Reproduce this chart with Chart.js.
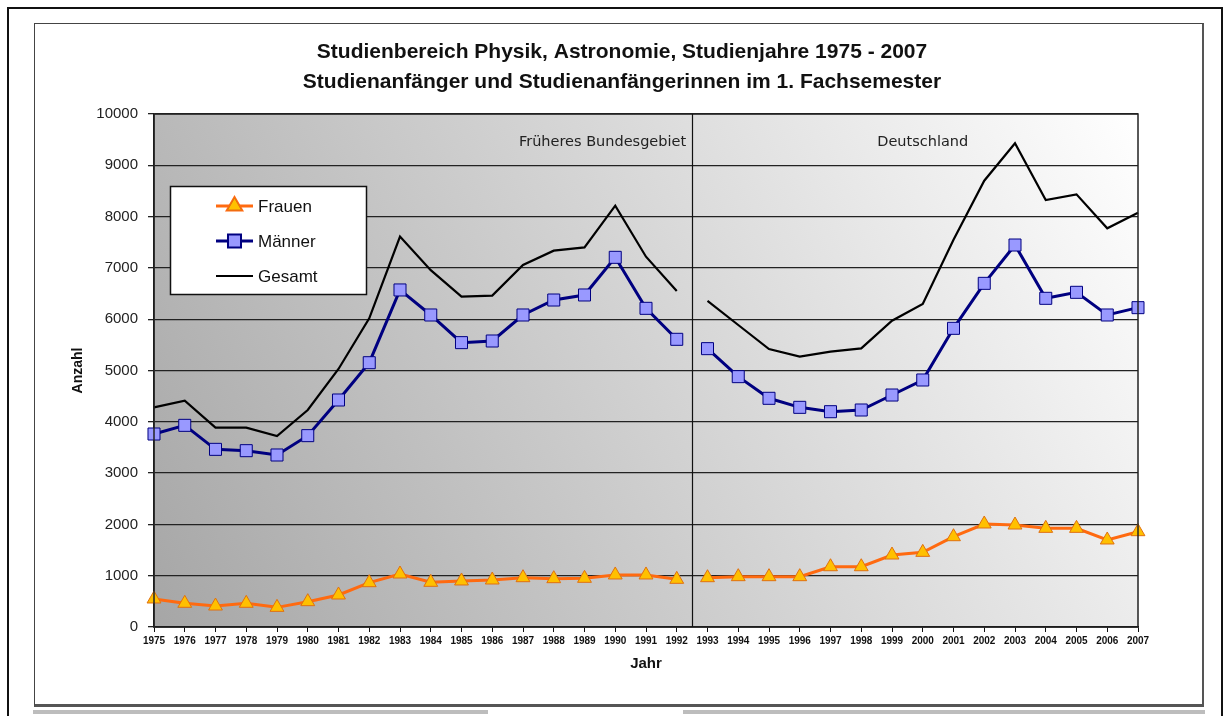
<!DOCTYPE html>
<html>
<head>
<meta charset="utf-8">
<script src="https://cdn.jsdelivr.net/npm/chart.js@4.4.1/dist/chart.umd.min.js"></script>
<style>
  html, body { margin:0; padding:0; background:#fff; width:1230px; height:716px; overflow:hidden; }
  #outer { position:absolute; left:7px; top:7px; width:1216px; height:720px; border:2px solid #111; border-bottom:none; box-sizing:border-box; }
  #inner { position:absolute; left:34px; top:23px; width:1170px; height:684px; border:1px solid #444; border-right:2px solid #555; border-bottom:3px solid #555; box-sizing:border-box; background:#fff; }
  .bar { position:absolute; top:710px; height:4px; background:#bdbdbd; }
  #wrap { position:absolute; left:0; top:0; width:1230px; height:716px; }
</style>
</head>
<body>
<div id="outer"></div>
<div id="inner"></div>
<div class="bar" style="left:33px;width:455px;"></div>
<div class="bar" style="left:683px;width:522px;"></div>
<div id="wrap"><canvas id="c" width="1230" height="716"></canvas></div>
<script>
const years = ['1975','1976','1977','1978','1979','1980','1981','1982','1983','1984','1985','1986','1987','1988','1989','1990','1991','1992',
               '1993','1994','1995','1996','1997','1998','1999','2000','2001','2002','2003','2004','2005','2006','2007'];
const frauen = [546,462,409,462,383,494,624,864,1033,871,897,916,961,942,949,1014,1014,929,
                961,981,981,981,1175,1175,1403,1455,1760,2008,1988,1923,1923,1696,1858];
const maenner = [3762,3931,3463,3437,3353,3730,4425,5152,6570,6082,5543,5575,6082,6374,6472,7206,6212,5608,
                 5426,4880,4458,4282,4197,4230,4522,4815,5822,6699,7446,6407,6524,6082,6225];
const gesamt = [4282,4411,3885,3885,3723,4230,5030,6016,7610,6955,6440,6460,7057,7336,7400,8213,7218,6550,
                6355,5887,5419,5270,5367,5432,5971,6296,7550,8700,9429,8324,8434,7771,8077];
const seriesNames = ['Frauen','Männer','Gesamt'];
const yTicks = [0,1000,2000,3000,4000,5000,6000,7000,8000,9000,10000];
const regionLabels = ['Früheres Bundesgebiet','Deutschland'];
const splitAfter = '1992';
const titleLines = ['Studienbereich Physik, Astronomie, Studienjahre 1975 - 2007','Studienanfänger und Studienanfängerinnen im 1. Fachsemester'];

const FONT = "'Liberation Sans', Arial, sans-serif";
const FONT2 = "'DejaVu Sans', Verdana, sans-serif";
const splitIdx = years.indexOf(splitAfter);
const gapColor = (col) => (ctx) => ctx.p0DataIndex === splitIdx ? 'rgba(0,0,0,0)' : col;

const bgPlugin = {
  id:'bg',
  beforeDraw(chart){
    const {ctx, chartArea:a} = chart;
    const g = ctx.createLinearGradient(a.left, a.bottom, a.right, a.top);
    g.addColorStop(0, '#a6a6a6');
    g.addColorStop(0.5, '#d2d2d2');
    g.addColorStop(1, '#ffffff');
    ctx.save(); ctx.fillStyle = g; ctx.fillRect(a.left, a.top, a.right-a.left, a.bottom-a.top);
    ctx.fillStyle = '#111'; ctx.font = 'bold 21px ' + FONT; ctx.textAlign = 'center'; ctx.textBaseline = 'middle';
    titleLines.forEach((t, i) => ctx.fillText(t, 622, 52 + i*30));
    ctx.restore();
  },
  afterDatasetsDraw(chart){
    const {ctx, chartArea:a, scales:{x,y}} = chart;
    ctx.save();
    ctx.strokeStyle = '#222'; ctx.lineWidth = 1.5;
    ctx.strokeRect(a.left, a.top, a.right-a.left, a.bottom-a.top);
    const xd = (x.getPixelForValue(splitIdx) + x.getPixelForValue(splitIdx+1))/2;
    ctx.beginPath(); ctx.moveTo(Math.round(xd)+0.5, a.top); ctx.lineTo(Math.round(xd)+0.5, a.bottom); ctx.strokeStyle='#111'; ctx.lineWidth=1.2; ctx.stroke();
    ctx.fillStyle = '#222'; ctx.font = '14.5px ' + FONT2; ctx.textBaseline = 'middle';
    ctx.textAlign = 'right';
    ctx.fillText(regionLabels[0], xd - 6, a.top + 28);
    ctx.textAlign = 'center';
    ctx.fillText(regionLabels[1], x.getPixelForValue(years.indexOf('2000')), a.top + 28);
    ctx.restore();
  },
  afterDraw(chart){
    const {ctx} = chart;
    ctx.save();
    const bx = 170, by = 186, bw = 196, bh = 108;
    ctx.fillStyle = '#fff'; ctx.fillRect(bx, by, bw, bh);
    ctx.strokeStyle = '#111'; ctx.lineWidth = 1.5; ctx.strokeRect(bx+0.5, by+0.5, bw, bh);
    chart.data.datasets.forEach((ds, i) => {
      const yy = by + 20 + i*35;
      ctx.beginPath(); ctx.moveTo(216, yy); ctx.lineTo(253, yy);
      ctx.strokeStyle = ds.borderColor; ctx.lineWidth = ds.borderWidth; ctx.stroke();
      if (ds.pointStyle && ds.pointRadius > 0) {
        Chart.helpers.drawPoint(ctx, {pointStyle: ds.pointStyle, radius: ds.pointRadius, borderWidth: ds.pointBorderWidth, rotation:0}, 234.5, yy);
        ctx.fillStyle = ds.pointBackgroundColor; ctx.strokeStyle = ds.pointBorderColor; ctx.lineWidth = ds.pointBorderWidth;
        ctx.fill(); ctx.stroke();
      }
      ctx.fillStyle = '#111'; ctx.font = '17px ' + FONT; ctx.textAlign = 'left'; ctx.textBaseline = 'middle';
      ctx.fillText(ds.label, 258, yy + 1);
    });
    ctx.restore();
  }
};

new Chart(document.getElementById('c'), {
  type:'line',
  data:{
    labels: years,
    datasets:[
      { label: seriesNames[0], data: frauen, borderColor:'#ff6a10', borderWidth:3, pointStyle:'triangle', pointRadius:8, pointHoverRadius:8,
        pointBackgroundColor:'#ffc000', pointBorderColor:'#e07010', pointBorderWidth:1, tension:0, segment:{borderColor: gapColor('#ff6a10')} },
      { label: seriesNames[1], data: maenner, borderColor:'#000080', borderWidth:3, pointStyle:'rect', pointRadius:8.5, pointHoverRadius:8.5,
        pointBackgroundColor:'#9999ff', pointBorderColor:'#000080', pointBorderWidth:1, tension:0, segment:{borderColor: gapColor('#000080')} },
      { label: seriesNames[2], data: gesamt, borderColor:'#000000', borderWidth:2.2, pointRadius:0, pointHoverRadius:0, tension:0,
        segment:{borderColor: gapColor('#000000')} }
    ]
  },
  options:{
    responsive:false, animation:false, devicePixelRatio:1,
    layout:{ padding:{ left:66, right:92, top:114, bottom:0 } },
    plugins:{
      legend:{ display:false },
      tooltip:{ enabled:false },
      title:{ display:false }
    },
    scales:{
      x:{
        type:'category', offset:false,
        grid:{ drawOnChartArea:false, drawTicks:true, tickLength:5, color:'#111', tickWidth:1 },
        border:{ color:'#111', width:1.5 },
        ticks:{ autoSkip:false, maxRotation:0, minRotation:0, padding:3, color:'#111', font:{ family:FONT, size:10, weight:'bold' } },
        title:{ display:true, text:'Jahr', color:'#111', font:{ family:FONT, size:15, weight:'bold' }, padding:{ top:0, bottom:43 } },
        afterFit(s){ s.height = 89; }
      },
      y:{
        min:0, max:10000,
        afterBuildTicks(s){ s.ticks = yTicks.map(v => ({value:v})); },
        grid:{ color:'#222', lineWidth:1.3, tickLength:6, drawTicks:true },
        border:{ color:'#111', width:1.5 },
        ticks:{ padding:10, color:'#222', font:{ family:FONT, size:15 }, callback:(v) => String(v) },
        title:{ display:true, text:'Anzahl', color:'#111', font:{ family:FONT, size:14, weight:'bold' }, padding:{ top:4, bottom:4 } },
        afterFit(s){ s.width = 88; }
      }
    }
  },
  plugins:[bgPlugin]
});
</script>
</body>
</html>
